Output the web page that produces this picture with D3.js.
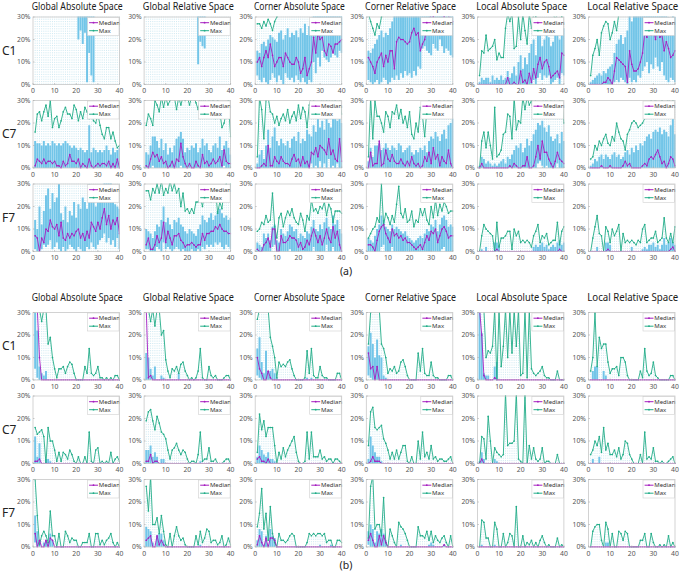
<!DOCTYPE html>
<html><head><meta charset="utf-8">
<script src="https://cdn.jsdelivr.net/npm/d3@7"></script>
<style>body{margin:0;background:#fff}</style>
</head><body><svg id="c" width="685" height="571"></svg>
<script>
var xTicks=[0,10,20,30,40];
var yTicks=[0,10,20,30];
var spaces=["Global Absolute Space","Global Relative Space","Corner Absolute Space","Corner Relative Space","Local Absolute Space","Local Relative Space"];
var spaceKeys=["GA","GR","CA","CR","LA","LR"];
var rowNames=["C1","C7","F7"];
var groups=["a","b"];
var xVals=[1,2,3,4,5,6,7,8,9,10,11,12,13,14,15,16,17,18,19,20,21,22,23,24,25,26,27,28,29,30,31,32,33,34,35,36,37,38,39,40];
var Z=[0,0,0,0,0,0,0,0,0,0, 0,0,0,0,0,0,0,0,0,0, 0,0,0,0,0,0,0,0,0,0, 0,0,0,0,0,0,0,0,0,0];
var HI=[40,40,40,40,40,40,40,40,40,40, 40,40,40,40,40,40,40,40,40,40, 40,40,40,40,40,40,40,40,40,40, 40,40,40,40,40,40,40,40,40,40];

// ---------- (a) C1 ----------
var aC1_GA_med=HI, aC1_GA_max=HI, aC1_GA_q3=HI;
var aC1_GA_q1=[40,40,40,40,40,40,40,40,40,40, 40,40,40,40,40,40,40,40,40,40, 20,24,18,23,1,14,4,1,40,40, 40,40,40,40,40,40,40,40,40,40];
var aC1_GR_med=HI, aC1_GR_max=HI, aC1_GR_q3=HI;
var aC1_GR_q1=[40,40,40,40,40,40,40,40,40,40, 40,40,40,40,40,40,40,40,40,40, 40,40,40,40,9,19,17,16,40,40, 40,40,40,40,40,40,40,40,40,40];
var aC1_CA_med=[10,12,8,12,15,12,18,13,8,10, 12,12,8,14,12,10,9,9,12,10, 5,7,12,4,7,10,21,14,23,20, 21,15,13,18,17,14,18,18,19,20];
var aC1_CA_max=[27,27,25,28,26,29,27,24,28,30, 40,40,40,40,40,40,40,40,40,40, 40,40,40,40,40,40,40,40,40,40, 40,40,40,40,40,40,40,40,40,40];
var aC1_CA_q1=[4,2,1,3,1,0,2,5,3,1, 4,2,0,5,3,2,3,1,4,2, 1,3,1,0,2,1,10,5,12,8, 15,12,11,10,12,14,13,12,15,14];
var aC1_CA_q3=[15,14,18,19,17,20,22,21,20,19, 23,24,20,22,25,21,23,22,24,21, 25,23,27,22,26,28,40,40,40,40, 40,40,40,40,40,40,40,40,40,40];
var aC1_CR_med=[12,10,8,5,10,12,14,8,13,10, 15,15,7,19,21,20,20,19,18,19, 23,25,22,23,15,18,20,25,28,32, 30,33,31,35,32,30,33,31,27,28];
var aC1_CR_max=[35,28,25,22,27,25,30,40,40,40, 40,40,40,40,40,40,40,40,40,40, 40,40,40,40,40,40,40,40,40,40, 40,40,40,40,40,40,40,40,40,40];
var aC1_CR_q1=[2,1,0,1,2,0,1,3,2,0, 1,3,2,4,2,5,3,6,4,5, 3,6,4,8,7,16,17,15,14,13, 18,16,15,20,17,14,16,15,13,12];
var aC1_CR_q3=[15,14,16,18,20,22,24,21,23,22, 25,28,40,40,40,40,40,40,40,40, 40,40,40,40,40,40,40,40,40,40, 40,40,40,40,40,40,40,40,40,40];
var aC1_LA_med=[0,0,0,0,0,0,0,0,0,0, 0,0,0,3,0,0,1,0,0,6, 1,2,0,5,1,7,3,9,12,7, 10,11,8,3,4,5,6,3,14,13];
var aC1_LA_max=[4,15,14,22,15,16,17,20,11,14, 12,12,25,40,28,40,16,17,30,20, 40,24,18,40,25,40,30,40,40,40, 40,33,40,40,40,29,40,40,30,40];
var aC1_LA_q1=[0,0,0,0,0,0,0,0,0,0, 0,0,0,0,0,0,0,0,0,0, 0,0,0,0,0,2,0,3,5,2, 4,3,4,0,1,2,3,0,5,4];
var aC1_LA_q3=[1,3,2,3,3,1,4,2,3,2, 4,2,3,6,3,5,8,4,10,13, 7,12,9,14,18,20,13,22,24,17, 20,24,21,17,19,22,25,20,27,25];
var aC1_LR_med=[0,0,0,0,0,0,1,1,3,2, 0,6,12,11,10,9,8,1,15,9, 6,6,7,10,14,23,21,26,22,25, 20,27,21,22,15,19,16,12,13,15];
var aC1_LR_max=[4,13,16,20,13,23,26,28,27,20, 23,28,24,40,40,40,40,40,40,40, 40,40,40,40,40,40,40,40,40,40, 40,40,40,40,40,40,40,40,40,40];
var aC1_LR_q1=[0,0,0,0,0,0,0,0,0,0, 0,1,2,1,3,2,1,0,3,1, 2,1,4,3,6,8,10,5,9,7, 12,8,6,10,4,2,1,3,2,1];
var aC1_LR_q3=[1,2,3,4,5,4,6,5,7,8, 9,14,18,20,22,18,21,24,40,28, 40,40,40,40,40,40,40,40,40,40, 40,40,40,40,40,40,30,28,32,30];

// ---------- (a) C7 ----------
var aC7_GA_med=[1,4,3,2,4,2,3,3,2,3, 1,1,0,3,1,2,6,3,3,2, 4,0,2,1,0,4,1,0,1,2, 1,2,2,1,3,0,2,0,4,0];
var aC7_GA_max=[16,24,25,21,25,28,23,30,18,22, 23,18,21,25,27,24,24,22,28,26, 21,25,22,27,25,22,24,21,20,24, 19,15,13,18,18,13,16,12,9,10];
var aC7_GA_q1=Z;
var aC7_GA_q3=[12,11,11,10,12,10,11,10,12,11, 10,11,10,11,12,11,10,9,10,9, 8,9,8,7,8,19,7,9,8,7, 8,7,8,10,8,6,9,7,8,9];
var aC7_GR_med=[1,0,4,7,5,6,3,5,2,3, 0,1,3,0,4,3,11,5,2,0, 2,0,0,3,1,0,6,2,3,1, 2,4,2,3,5,1,8,3,2,2];
var aC7_GR_max=[19,24,22,19,30,28,25,40,27,40, 28,30,33,40,26,40,28,40,30,40, 28,40,33,29,26,40,29,40,27,32, 28,40,22,30,25,18,20,25,30,14];
var aC7_GR_q1=[0,0,0,1,0,0,0,0,0,0, 0,0,0,0,0,0,1,0,0,0, 0,0,0,0,0,0,0,0,0,0, 0,0,0,0,0,0,1,0,0,0];
var aC7_GR_q3=[7,6,10,14,14,12,9,13,8,11, 6,9,7,10,13,14,16,13,7,9, 8,10,9,11,7,9,13,10,11,8, 7,10,11,9,14,8,10,12,9,6];
var aC7_CA_med=[0,0,1,2,1,10,1,1,5,3, 2,5,3,2,2,1,4,6,3,4, 1,5,2,3,0,7,6,9,5,10, 9,8,6,13,6,8,4,3,13,3];
var aC7_CA_max=[5,40,26,13,30,40,25,24,20,23, 19,22,24,21,26,20,23,25,21,28, 22,27,25,18,28,40,30,40,32,40, 29,40,30,40,28,40,30,40,40,24];
var aC7_CA_q1=[0,0,0,0,0,0,0,0,0,0, 0,0,0,0,0,0,0,0,0,0, 0,0,0,0,0,2,0,1,0,3, 0,2,0,4,0,1,0,2,0,0];
var aC7_CA_q3=[2,6,8,4,10,17,9,14,18,12, 10,13,11,10,12,9,13,14,12,16, 11,13,12,17,15,14,19,16,22,18, 21,17,24,20,18,22,26,21,23,20];
var aC7_CR_med=[0,7,1,2,2,12,1,2,8,4, 3,6,3,2,2,4,2,1,3,1, 5,2,1,2,0,1,5,3,7,2, 9,4,6,1,5,3,2,8,2,0];
var aC7_CR_max=[5,40,13,30,23,23,20,16,25,23, 18,25,24,28,22,26,20,23,18,25, 15,13,20,16,27,23,14,26,30,23, 25,32,28,40,25,30,28,40,32,30];
var aC7_CR_q1=Z;
var aC7_CR_q3=[3,9,5,10,10,11,8,9,11,9, 8,10,9,8,11,10,7,8,9,10, 7,6,8,7,9,8,10,7,12,14, 13,16,14,12,15,17,13,19,20,22];
var aC7_LA_med=[0,2,0,0,0,0,0,0,0,0, 0,0,0,0,1,0,2,1,0,0, 1,1,5,0,0,1,5,10,4,12, 7,7,4,2,0,3,7,4,3,2];
var aC7_LA_max=[0,12,16,9,16,10,4,27,5,6, 8,15,16,24,23,13,32,17,21,20, 33,26,33,28,30,24,35,33,35,33, 28,34,25,35,28,33,35,30,35,20];
var aC7_LA_q1=[0,0,0,0,0,0,0,0,0,0, 0,0,0,0,0,0,0,0,0,0, 0,0,0,0,0,0,0,2,3,1, 0,1,0,0,0,0,2,0,0,0];
var aC7_LA_q3=[1,5,4,2,3,2,1,2,1,2, 3,4,2,5,4,6,8,10,9,11, 7,9,13,10,12,15,17,20,19,21, 18,16,19,14,12,13,15,11,16,12];
var aC7_LR_med=[0,0,0,0,0,1,0,0,0,1, 0,0,0,0,0,1,3,1,2,0, 0,0,0,0,1,2,1,4,5,4, 6,8,5,2,3,0,2,5,4,1];
var aC7_LR_max=[4,5,10,8,12,10,13,15,11,10, 14,12,20,16,13,12,8,15,17,20, 21,20,18,19,20,22,26,25,30,28, 31,26,29,30,27,29,31,28,30,31];
var aC7_LR_q1=Z;
var aC7_LR_q3=[1,2,4,3,5,6,4,6,5,4, 6,7,5,6,4,5,7,8,6,9, 7,10,8,11,10,12,14,15,13,16, 17,16,18,15,17,16,14,19,24,15];

// ---------- (a) F7 ----------
var aF7_GA_med=[7,6,0,6,4,10,9,14,11,10, 12,7,13,6,5,8,6,8,7,9, 10,6,8,5,9,6,13,11,9,13, 10,15,19,12,16,10,14,12,15,8];
var aF7_GA_max=HI;
var aF7_GA_q1=[1,0,0,1,3,2,3,5,1,2, 4,1,0,2,0,1,3,2,1,0, 2,1,0,0,2,1,4,2,1,3, 5,6,8,4,6,3,5,2,6,1];
var aF7_GA_q3=[14,10,20,12,18,25,28,19,26,22, 24,30,17,14,20,13,18,16,22,15, 21,19,24,22,19,30,23,24,20,28, 25,26,40,33,40,31,29,21,20,19];
var aF7_GR_med=[3,6,1,1,3,7,4,6,13,4, 9,6,3,7,7,8,5,4,2,3, 3,4,3,2,3,3,8,5,8,8, 9,9,11,10,12,10,9,9,8,8];
var aF7_GR_max=[27,27,23,28,26,30,26,40,25,28, 26,40,27,30,26,28,20,26,18,19, 17,19,17,22,22,24,20,26,27,25, 22,26,28,17,22,19,28,30,24,30];
var aF7_GR_q1=[1,1,0,0,0,2,1,0,4,1, 2,1,0,1,2,1,0,1,0,0, 0,1,0,0,1,0,2,1,3,2, 3,2,4,3,4,2,1,3,2,1];
var aF7_GR_q3=[10,9,8,6,9,12,11,14,20,13, 15,12,10,14,13,15,12,11,9,8, 10,9,8,7,10,12,16,14,13,15, 17,14,16,18,19,17,15,16,14,15];
var aF7_CA_med=[1,0,0,3,4,6,2,10,10,0, 0,7,4,4,5,7,6,6,5,2, 4,1,2,5,3,7,10,7,4,7, 3,6,10,6,4,11,6,9,3,0];
var aF7_CA_max=[9,10,13,12,16,13,14,26,11,6, 15,17,11,15,18,16,19,15,13,12, 17,14,9,16,14,23,18,19,17,20, 19,22,16,21,19,13,18,18,18,17];
var aF7_CA_q1=[0,0,0,0,0,0,0,2,3,0, 0,0,0,0,0,1,0,0,0,0, 0,0,0,0,0,0,2,0,0,0, 0,0,3,0,0,2,0,0,0,0];
var aF7_CA_q3=[4,3,2,8,6,8,5,11,12,5, 4,10,8,7,9,12,11,9,10,6, 8,7,6,9,8,11,14,10,9,12, 10,13,15,11,10,16,12,14,10,8];
var aF7_CR_med=[3,3,2,0,5,9,11,12,8,6, 4,10,7,8,6,7,5,6,4,4, 3,2,1,2,3,1,4,7,5,9, 8,10,4,7,10,11,9,6,7,7];
var aF7_CR_max=[6,8,10,11,15,13,30,12,17,15, 12,16,13,21,29,17,15,19,13,14, 18,11,14,13,19,16,19,14,12,20, 15,23,16,21,18,22,20,17,18,18];
var aF7_CR_q1=[0,0,0,0,0,0,2,3,0,0, 0,2,0,0,0,0,0,0,0,0, 0,0,0,0,0,0,0,0,0,0, 0,0,0,0,1,2,0,0,0,0];
var aF7_CR_q3=[6,5,4,7,10,12,16,14,11,10, 9,12,10,11,10,9,8,9,7,6, 5,4,5,6,7,6,8,10,9,12, 11,14,9,12,15,16,14,11,12,11];
var aF7_LA_med=[0,0,0,0,0,0,0,0,1,0, 0,0,0,0,0,0,0,0,0,0, 0,0,0,0,0,0,0,0,0,0, 0,0,0,0,0,0,0,1,0,0];
var aF7_LA_max=[0,7,12,10,9,8,7,0,13,2, 6,6,7,9,9,1,10,7,9,4, 5,4,5,4,2,7,9,12,4,7, 6,8,3,4,5,5,13,3,9,11];
var aF7_LA_q1=Z;
var aF7_LA_q3=[0,1,0,2,0,0,0,4,4,3, 0,0,0,0,0,0,0,0,0,0, 0,0,0,0,0,2,3,2,3,4, 2,3,1,2,3,2,4,5,3,4];
var aF7_LR_med=[0,0,0,0,0,0,0,0,1,0, 0,0,0,0,0,0,0,0,0,0, 0,0,0,0,0,0,0,0,0,0, 0,0,0,0,0,0,0,1,2,0];
var aF7_LR_max=[0,6,11,16,8,7,0,11,9,4, 10,7,9,12,0,8,4,5,4,5, 4,3,5,4,10,12,4,5,6,6, 9,4,5,6,15,6,4,8,4,11];
var aF7_LR_q1=Z;
var aF7_LR_q3=[0,0,0,2,0,0,0,4,4,3, 0,0,0,0,0,0,0,0,0,2, 0,0,0,0,1,2,1,3,3,4, 2,3,1,3,6,3,4,6,4,3];

// ---------- (b) C1 ----------
var bC1_GA_med=[40,40,10,0,0,0,0,0,0,0, 0,0,0,0,0,0,0,0,0,0, 0,0,0,0,0,0,0,0,0,0, 0,0,0,0,0,0,0,0,0,0];
var bC1_GA_max=[40,40,40,26,40,40,16,19,10,5, 1,5,5,6,3,6,8,7,3,0, 0,0,0,6,3,14,3,2,3,6, 1,1,0,1,0,1,0,2,2,0];
var bC1_GA_q1=[5,1,0,0,0,0,0,0,0,0, 0,0,0,0,0,0,0,0,0,0, 0,0,0,0,0,0,0,0,0,0, 0,0,0,0,0,0,0,0,0,0];
var bC1_GA_q3=[40,22,6,3,2,4,0,0,0,0, 0,0,0,0,0,0,0,0,0,0, 0,0,0,0,0,0,0,0,0,0, 0,0,0,0,0,0,0,0,0,0];
var bC1_GR_med=[40,1,2,0,0,0,0,0,0,0, 0,0,0,0,0,0,0,0,0,0, 0,0,0,0,0,0,0,0,0,0, 0,0,0,0,0,0,0,0,0,0];
var bC1_GR_max=[40,40,26,40,24,40,40,20,22,9, 4,1,5,4,6,3,7,8,4,2, 0,1,0,1,4,14,1,0,0,6, 2,1,2,0,0,0,1,2,2,0];
var bC1_GR_q1=Z;
var bC1_GR_q3=[12,10,5,2,6,0,0,2,1,0, 0,0,0,0,0,3,0,0,0,0, 0,0,0,0,0,0,0,0,0,0, 0,0,0,0,0,0,0,0,0,0];
var bC1_CA_med=[10,5,3,0,0,4,1,0,0,0, 0,0,0,0,0,0,0,0,0,0, 0,0,0,0,0,0,0,0,0,0, 0,0,0,0,0,0,0,0,0,0];
var bC1_CA_max=[27,40,40,40,40,40,19,15,10,1, 8,6,7,6,8,9,5,2,0,0, 0,0,1,13,3,14,2,1,1,6, 2,1,1,0,0,0,0,3,3,0];
var bC1_CA_q1=[2,1,0,0,0,0,0,0,0,0, 0,0,0,0,0,0,0,0,0,0, 0,0,0,0,0,0,0,0,0,0, 0,0,0,0,0,0,0,0,0,0];
var bC1_CA_q3=[14,19,8,3,13,4,4,5,3,1, 0,0,0,0,0,0,0,0,0,0, 0,0,0,1,0,1,0,0,0,0, 0,0,0,0,0,0,0,0,0,0];
var bC1_CR_med=[12,5,6,0,6,0,0,0,0,0, 0,0,0,0,0,0,0,0,0,0, 0,0,0,0,0,0,0,0,0,0, 0,0,0,0,0,0,0,0,0,0];
var bC1_CR_max=[16,30,40,40,40,40,16,14,10,3, 5,4,6,3,4,8,9,6,2,0, 0,0,0,12,4,14,3,2,2,8, 2,1,1,0,0,0,0,2,2,0];
var bC1_CR_q1=[2,1,0,0,0,0,0,0,0,0, 0,0,0,0,0,0,0,0,0,0, 0,0,0,0,0,0,0,0,0,0, 0,0,0,0,0,0,0,0,0,0];
var bC1_CR_q3=[15,21,16,10,18,11,10,2,1,0, 0,0,0,0,0,0,0,0,0,0, 0,0,0,0,0,0,0,0,0,0, 0,0,0,0,0,0,0,0,0,0];
var bC1_LA_med=[40,20,2,0,0,0,0,1,0,0, 0,0,0,0,0,0,0,0,0,0, 0,0,0,0,0,0,0,0,0,0, 0,0,0,0,0,0,0,0,0,0];
var bC1_LA_max=[40,40,40,10,13,12,15,40,0,40, 6,15,40,10,40,12,40,15,40,2, 3,40,1,40,5,3,2,3,4,6, 2,1,1,0,0,0,4,0,0,0];
var bC1_LA_q1=Z;
var bC1_LA_q3=[40,21,3,2,2,0,0,6,8,0, 0,0,0,0,0,0,0,0,0,0, 0,0,0,0,0,0,0,0,0,0, 0,0,0,0,0,0,0,0,0,0];
var bC1_LR_med=Z;
var bC1_LR_max=[4,10,30,6,19,14,16,16,8,3, 5,5,6,2,10,10,8,2,0,0, 0,0,0,4,1,14,4,2,3,8, 2,1,0,0,0,0,0,2,2,0];
var bC1_LR_q1=Z;
var bC1_LR_q3=[0,4,6,6,0,0,4,2,0,0, 0,0,0,0,0,0,0,0,0,0, 0,0,0,0,0,0,0,0,0,0, 0,0,0,0,0,0,0,0,0,0];

// ---------- (b) C7 ----------
var bC7_GA_med=[1,1,2,0,0,0,0,0,0,0, 0,0,0,0,0,0,0,0,0,0, 0,0,0,0,0,0,0,0,0,0, 0,0,0,0,0,0,0,0,0,0];
var bC7_GA_max=[16,13,14,15,12,0,16,10,10,6, 1,5,1,5,4,2,6,4,1,0, 3,0,0,3,0,14,1,0,6,7, 0,1,0,1,0,5,0,2,3,1];
var bC7_GA_q1=Z;
var bC7_GA_q3=[12,3,9,0,0,2,2,1,0,0, 0,0,0,0,0,0,0,0,0,0, 0,0,0,0,0,0,0,0,0,0, 0,0,0,0,0,0,0,0,0,0];
var bC7_GR_med=[1,1,4,0,1,1,0,0,0,0, 0,0,0,0,0,0,0,0,0,0, 0,0,0,0,0,0,0,0,0,0, 0,0,0,0,0,0,0,0,0,0];
var bC7_GR_max=[19,23,24,19,15,21,18,14,13,11, 6,2,6,7,9,6,4,6,5,2, 0,1,1,0,4,14,1,2,2,7, 1,1,2,0,0,0,1,2,2,0];
var bC7_GR_q1=Z;
var bC7_GR_q3=[6,6,8,3,5,3,0,2,2,0, 0,0,0,0,0,0,0,0,0,0, 0,0,0,0,0,1,0,0,0,0, 0,0,0,0,0,0,0,0,0,0];
var bC7_CA_med=[2,3,1,1,0,2,0,0,0,0, 0,0,0,0,0,0,0,0,0,0, 0,0,0,0,0,0,0,0,0,0, 0,0,0,0,0,0,0,0,0,0];
var bC7_CA_max=[5,22,15,19,12,16,16,16,8,0, 5,2,7,3,6,8,10,12,5,1, 0,0,1,14,2,14,3,3,3,6, 2,3,1,2,2,0,2,2,1,0];
var bC7_CA_q1=Z;
var bC7_CA_q3=[3,8,6,4,3,5,2,2,1,0, 0,0,0,0,0,0,0,0,0,0, 0,0,0,0,0,0,0,0,0,0, 0,0,0,0,0,0,0,0,0,0];
var bC7_CR_med=[0,1,3,1,1,1,0,0,0,0, 0,0,0,0,0,0,0,0,0,0, 0,0,0,0,0,0,0,0,0,0, 0,0,0,0,0,0,0,0,0,0];
var bC7_CR_max=[8,23,25,16,15,16,17,11,9,6, 2,5,2,6,2,5,8,8,1,0, 3,0,0,10,2,14,3,5,2,8, 2,3,1,2,2,1,1,2,3,0];
var bC7_CR_q1=Z;
var bC7_CR_q3=[2,12,8,5,3,3,1,0,0,0, 0,0,0,0,0,0,0,0,0,0, 0,0,0,0,0,0,0,0,0,0, 0,0,0,0,0,0,0,0,0,0];
var bC7_LA_med=[0,2,0,0,0,0,0,0,0,0, 0,0,0,0,0,0,0,0,0,0, 0,0,0,0,0,0,0,0,0,0, 0,0,0,0,0,0,0,0,0,0];
var bC7_LA_max=[0,12,11,2,21,10,0,7,5,4, 3,4,40,8,9,9,10,40,2,1, 0,40,0,8,2,7,2,1,2,7, 0,1,1,0,0,0,4,0,0,0];
var bC7_LA_q1=Z;
var bC7_LA_q3=[1,5,2,0,0,0,0,2,1,0, 0,0,0,0,0,0,0,0,0,0, 0,0,0,0,0,0,0,0,0,0, 0,0,0,0,0,0,0,0,0,0];
var bC7_LR_med=Z;
var bC7_LR_max=[4,6,10,8,12,5,16,6,9,4, 4,6,3,7,2,4,10,9,4,2, 0,0,0,4,0,14,2,3,2,7, 1,1,0,1,0,0,1,2,3,0];
var bC7_LR_q1=Z;
var bC7_LR_q3=[0,2,0,0,3,0,0,0,0,0, 0,0,0,0,0,0,0,0,0,0, 0,0,0,0,0,0,0,0,0,0, 0,0,0,0,0,0,0,0,0,0];

// ---------- (b) F7 ----------
var bF7_GA_med=[6,0,3,0,0,3,0,4,3,0, 0,0,0,0,0,0,0,0,0,0, 0,0,0,0,0,0,0,0,0,0, 0,0,0,0,0,0,0,0,0,0];
var bF7_GA_max=[30,14,1,5,7,5,2,16,5,5, 0,6,0,0,7,5,2,4,3,3, 0,0,2,2,2,6,0,0,6,6, 1,3,1,3,4,6,2,0,2,0];
var bF7_GA_q1=[2,0,0,0,0,0,0,0,0,0, 0,0,0,0,0,0,0,0,0,0, 0,0,0,0,0,0,0,0,0,0, 0,0,0,0,0,0,0,0,0,0];
var bF7_GA_q3=[14,7,3,0,2,3,2,6,3,0, 0,0,0,0,0,0,0,0,0,0, 0,0,0,0,0,0,0,0,0,0, 0,0,0,0,0,0,0,0,0,0];
var bF7_GR_med=[3,4,5,0,0,5,1,3,1,0, 0,0,0,0,0,0,0,0,0,0, 0,0,0,0,0,0,0,0,0,0, 0,0,0,0,0,0,0,0,0,0];
var bF7_GR_max=[27,16,40,10,10,13,6,14,7,1, 0,6,0,5,9,5,3,4,1,0, 0,0,0,5,1,7,2,4,8,7, 2,3,3,1,2,5,0,1,4,1];
var bF7_GR_q1=Z;
var bF7_GR_q3=[9,8,7,2,0,5,6,6,3,0, 0,0,0,0,0,0,0,0,0,0, 0,0,0,0,0,1,0,0,0,0, 0,0,0,0,0,0,0,0,0,0];
var bF7_CA_med=[1,5,2,0,4,0,4,4,3,0, 0,0,0,0,0,0,0,0,0,0, 0,0,0,0,0,0,0,0,0,0, 0,0,0,0,0,0,0,0,0,0];
var bF7_CA_max=[9,15,26,8,15,3,18,6,2,0, 6,3,3,2,3,5,6,5,0,0, 0,0,0,2,6,5,6,5,6,6, 5,6,2,3,3,0,0,3,3,2];
var bF7_CA_q1=Z;
var bF7_CA_q3=[3,8,7,1,5,1,8,5,4,0, 0,0,0,0,0,0,0,0,0,0, 0,0,0,0,0,0,0,0,0,1, 0,0,0,0,1,0,0,0,0,0];
var bF7_CR_med=[3,6,3,0,0,5,1,5,2,0, 0,0,0,0,0,0,0,0,0,0, 0,0,0,0,0,0,0,0,0,0, 0,0,0,0,0,1,0,0,0,0];
var bF7_CR_max=[4,27,40,8,10,10,5,22,2,0, 8,5,2,0,11,9,8,6,3,0, 0,0,0,9,5,5,4,7,3,7, 2,5,3,2,4,5,2,0,5,0];
var bF7_CR_q1=[1,0,0,0,0,0,0,0,0,0, 0,0,0,0,0,0,0,0,0,0, 0,0,0,0,0,0,0,0,0,0, 0,0,0,0,0,0,0,0,0,0];
var bF7_CR_q3=[7,10,8,2,7,6,8,6,3,0, 0,0,0,0,0,1,0,0,0,0, 0,0,0,0,0,0,0,0,1,2, 1,0,0,0,0,1,0,0,0,0];
var bF7_LA_med=Z;
var bF7_LA_max=[0,12,11,4,4,0,0,11,8,0, 0,6,0,2,6,5,0,18,0,0, 5,0,2,1,3,0,2,0,3,5, 2,0,1,0,0,0,4,0,1,0];
var bF7_LA_q1=Z;
var bF7_LA_q3=[0,1,0,0,0,0,0,1,0,0, 0,0,0,0,0,0,0,0,0,0, 0,0,0,0,0,0,0,0,0,0, 0,0,0,0,0,0,0,0,0,0];
var bF7_LR_med=Z;
var bF7_LR_max=[0,7,9,10,10,3,0,11,8,0, 6,0,0,7,6,3,7,6,0,0, 0,0,0,3,3,6,0,0,6,2, 0,0,1,0,1,0,5,0,2,0];
var bF7_LR_q1=Z;
var bF7_LR_q3=[0,0,0,0,0,0,0,2,2,0, 0,0,0,0,0,0,0,0,0,0, 0,0,0,0,0,0,0,0,0,0, 0,0,0,0,0,0,0,0,0,0];

// ---------- drawing ----------
const svg=d3.select("#c");
const W=86.5,H=67.5;
const colLeft=c=>33+c*111.1;
const groupTop={a:17,b:312.5};
const titleBase={a:10.2,b:300.5};
const groupLabelY={a:275,b:569};
const rowStep=83.5;
const x=d3.scaleLinear().domain([0,40]).range([0,W]);
const y=d3.scaleLinear().domain([0,30]).range([H,0]);
const bw=(x(1)-x(0))*0.92;
const C={bar:"#72c5e8",med:"#a51dbf",max:"#22ad88",wh:"#a9d6e8",frame:"#c8c8c8",tick:"#555"};
const clip=v=>Math.max(-1,Math.min(v,31.5));
let cid=0;
const FONT="'Noto Sans', 'DejaVu Sans', sans-serif";

groups.forEach(g=>{
  spaces.forEach((t,c)=>{
    svg.append("text").attr("x",colLeft(c)+W/2+1).attr("y",titleBase[g])
      .attr("text-anchor","middle").attr("font-family",FONT).attr("font-size",10.5)
      .attr("textLength",91).attr("lengthAdjust","spacingAndGlyphs")
      .attr("fill","#1a1a1a").text(t);
  });
  svg.append("text").attr("x",346).attr("y",groupLabelY[g]).attr("text-anchor","middle")
    .attr("font-family",FONT).attr("font-size",10.5).attr("fill","#222").text("("+g+")");
  rowNames.forEach((rn,r)=>{
    const top=groupTop[g]+r*rowStep;
    svg.append("text").attr("x",2).attr("y",top+H/2+4).attr("font-family",FONT)
      .attr("font-size",12).attr("fill","#222").text(rn);
    spaceKeys.forEach((k,c)=>{
      const base=g+rn+"_"+k+"_";
      const med=window[base+"med"], mx=window[base+"max"], q1=window[base+"q1"], q3=window[base+"q3"];
      const gp=svg.append("g").attr("transform",`translate(${colLeft(c)},${top})`);
      const id="cp"+(cid++);
      gp.append("clipPath").attr("id",id).append("rect").attr("x",-0.5).attr("y",-0.5).attr("width",W+1).attr("height",H+1);
      gp.append("rect").attr("width",W).attr("height",H).attr("fill","#fff");
      const pl=gp.append("g").attr("clip-path",`url(#${id})`);
      // whiskers
      pl.selectAll("line.wh").data(xVals).join("line").attr("class","wh")
        .attr("x1",d=>x(d)).attr("x2",d=>x(d))
        .attr("y1",y(0)).attr("y2",(d,i)=>y(clip(mx[i])))
        .attr("stroke",C.wh).attr("stroke-width",0.6).attr("stroke-dasharray","1,1.4");
      // IQR bars
      pl.selectAll("rect.bar").data(xVals).join("rect").attr("class","bar")
        .attr("x",d=>x(d)-bw/2).attr("width",bw)
        .attr("y",(d,i)=>y(clip(q3[i])))
        .attr("height",(d,i)=>Math.max(0,y(clip(q1[i]))-y(clip(q3[i]))))
        .attr("fill",C.bar);
      // lines
      const line=d3.line().x(d=>x(d[0])).y(d=>y(clip(d[1])));
      [[mx,C.max],[med,C.med]].forEach(([arr,col])=>{
        const pts=xVals.map((d,i)=>[d,arr[i]]);
        pl.append("path").attr("d",line(pts)).attr("fill","none").attr("stroke",col).attr("stroke-width",0.9);
        pl.selectAll(null).data(pts.filter(p=>p[1]<=31)).join("circle")
          .attr("cx",p=>x(p[0])).attr("cy",p=>y(p[1])).attr("r",0.85).attr("fill",col);
      });
      // legend
      const lx=54.5, lw=W-lx-0.5;
      const lg=gp.append("g").attr("transform",`translate(${lx},0.5)`);
      lg.append("rect").attr("width",lw).attr("height",18).attr("fill","#fff").attr("stroke","#d0d0d0").attr("stroke-width",0.6);
      [["Median",C.med,5.2],["Max",C.max,13.2]].forEach(([lab,col,yy])=>{
        lg.append("line").attr("x1",1.6).attr("x2",10.5).attr("y1",yy).attr("y2",yy).attr("stroke",col).attr("stroke-width",1);
        lg.append("circle").attr("cx",6).attr("cy",yy).attr("r",0.9).attr("fill",col);
        lg.append("text").attr("x",11.3).attr("y",yy+2.1).attr("font-family",FONT).attr("font-size",6).attr("fill","#333").text(lab);
      });
      // frame
      gp.append("rect").attr("width",W).attr("height",H).attr("fill","none").attr("stroke",C.frame).attr("stroke-width",0.8);
      // axes labels
      gp.selectAll("text.yt").data(yTicks).join("text").attr("class","yt")
        .attr("x",-2.5).attr("y",d=>y(d)+2.3).attr("text-anchor","end")
        .attr("font-family",FONT).attr("font-size",6.8).attr("fill",C.tick).text(d=>d+"%");
      gp.selectAll("text.xt").data(xTicks).join("text").attr("class","xt")
        .attr("x",d=>x(d)).attr("y",H+8.6).attr("text-anchor","middle")
        .attr("font-family",FONT).attr("font-size",6.8).attr("fill",C.tick).text(d=>d);
      gp.selectAll("line.tk").data(xTicks).join("line").attr("class","tk")
        .attr("x1",d=>x(d)).attr("x2",d=>x(d)).attr("y1",H).attr("y2",H-1.5).attr("stroke","#aaa").attr("stroke-width",0.6);
      gp.selectAll("line.tky").data(yTicks).join("line").attr("class","tky")
        .attr("x1",0).attr("x2",1.5).attr("y1",d=>y(d)).attr("y2",d=>y(d)).attr("stroke","#aaa").attr("stroke-width",0.6);
    });
  });
});
</script></body></html>
